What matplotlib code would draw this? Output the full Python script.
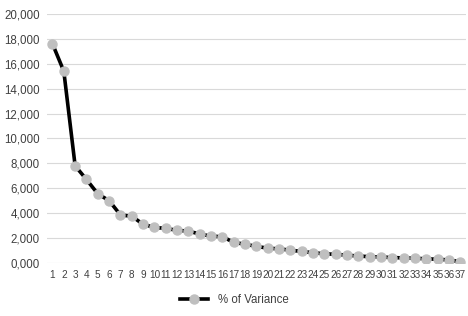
import matplotlib
matplotlib.use("Agg")
import matplotlib.pyplot as plt
from matplotlib.ticker import FuncFormatter, MultipleLocator
from matplotlib import font_manager

narrow = [f.name for f in font_manager.fontManager.ttflist if 'Narrow' in f.name or 'Condensed' in f.name]
print(sorted(set(narrow)))

plt.rcParams['font.family'] = ['Liberation Sans Narrow', 'Liberation Sans', 'DejaVu Sans']

# 数据
components = list(range(1, 38))
variance = [17600, 15400, 7800, 6700, 5550, 5000, 3850, 3750, 3100, 2850,
            2770, 2620, 2550, 2320, 2150, 2100, 1650, 1500, 1330, 1180,
            1130, 1020, 920, 820, 730, 690, 620, 550, 500, 470,
            430, 400, 370, 330, 290, 240, 90]
series_name = "% of Variance"

fig = plt.figure(figsize=(4.68, 3.16), dpi=100)
ax = fig.add_axes([0.1, 0.168, 0.896, 0.788])

ax.plot(components, variance, color='black', linewidth=2.6,
        marker='o', markersize=6.5, markerfacecolor='#BFBFBF',
        markeredgecolor='#BFBFBF', label=series_name, zorder=3)

ax.set_xlim(0.5, 37.5)
ax.set_ylim(0, 20000)
ax.set_xticks(components)
ax.set_xticklabels([str(c) for c in components])
ax.yaxis.set_major_locator(MultipleLocator(2000))
ax.yaxis.set_major_formatter(FuncFormatter(lambda v, p: "%d,%03d" % (int(v) // 1000, int(v) % 1000)))

ax.grid(axis='y', color='#D9D9D9', linewidth=0.8)
ax.set_axisbelow(True)
for s in ax.spines.values():
    s.set_visible(False)
ax.tick_params(length=0, colors='#404040')
ax.tick_params(axis='x', pad=5, labelsize=7.2)
ax.tick_params(axis='y', pad=5, labelsize=8.3)

leg = fig.legend(loc='lower center', bbox_to_anchor=(0.5, 0.0), frameon=False,
                 fontsize=8.3, handlelength=2.5)
for t in leg.get_texts():
    t.set_color('#404040')

fig.savefig('out.png', dpi=100)
